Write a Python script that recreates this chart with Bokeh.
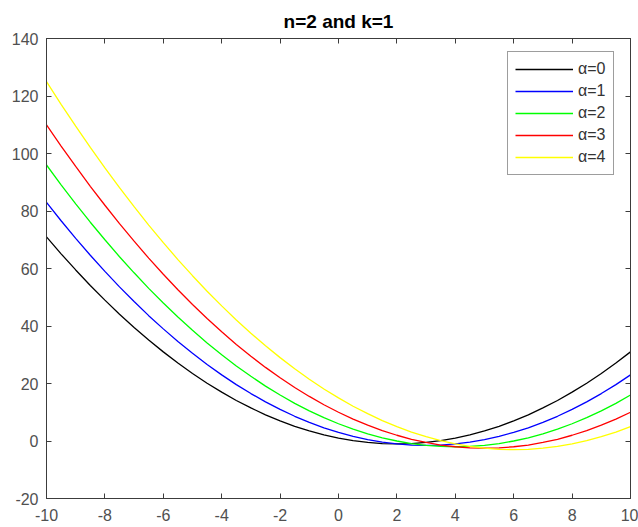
from bokeh.plotting import figure
from bokeh.models import LinearAxis, Range1d, FixedTicker, CustomJSTickFormatter
from bokeh.embed import file_html
from bokeh.resources import INLINE

x = [-10, -9.5, -9, -8.5, -8, -7.5, -7, -6.5, -6, -5.5, -5, -4.5, -4, -3.5, -3, -2.5, -2, -1.5, -1, -0.5,
     0, 0.5, 1, 1.5, 2, 2.5, 3, 3.5, 4, 4.5, 5, 5.5, 6, 6.5, 7, 7.5, 8, 8.5, 9, 9.5, 10]
alpha0 = [71, 65.1, 59.5, 54.1, 49, 44.1, 39.5, 35.1, 31, 27.1, 23.5, 20.1, 17, 14.1, 11.5, 9.1, 7, 5.1, 3.5, 2.1,
          1, 0.1, -0.5, -0.9, -1, -0.9, -0.5, 0.1, 1, 2.1, 3.5, 5.1, 7, 9.1, 11.5, 14.1, 17, 20.1, 23.5, 27.1, 31]
alpha1 = [83, 76.6, 70.5, 64.6, 59, 53.6, 48.5, 43.6, 39, 34.6, 30.5, 26.6, 23, 19.6, 16.5, 13.6, 11, 8.6, 6.5, 4.6,
          3, 1.6, 0.5, -0.4, -1, -1.4, -1.5, -1.4, -1, -0.4, 0.5, 1.6, 3, 4.6, 6.5, 8.6, 11, 13.6, 16.5, 19.6, 23]
alpha2 = [96, 89.1, 82.5, 76.1, 70, 64.1, 58.5, 53.1, 48, 43.1, 38.5, 34.1, 30, 26.1, 22.5, 19.1, 16, 13.1, 10.5, 8.1,
          6, 4.1, 2.5, 1.1, 0, -0.9, -1.5, -1.9, -2, -1.9, -1.5, -0.9, 0, 1.1, 2.5, 4.1, 6, 8.1, 10.5, 13.1, 16]
alpha3 = [110, 102.6, 95.5, 88.6, 82, 75.6, 69.5, 63.6, 58, 52.6, 47.5, 42.6, 38, 33.6, 29.5, 25.6, 22, 18.6, 15.5, 12.6,
          10, 7.6, 5.5, 3.6, 2, 0.6, -0.5, -1.4, -2, -2.4, -2.5, -2.4, -2, -1.4, -0.5, 0.6, 2, 3.6, 5.5, 7.6, 10]
alpha4 = [125, 117.1, 109.5, 102.1, 95, 88.1, 81.5, 75.1, 69, 63.1, 57.5, 52.1, 47, 42.1, 37.5, 33.1, 29, 25.1, 21.5, 18.1,
          15, 12.1, 9.5, 7.1, 5, 3.1, 1.5, 0.1, -1, -1.9, -2.5, -2.9, -3, -2.9, -2.5, -1.9, -1, 0.1, 1.5, 3.1, 5]
series = [alpha0, alpha1, alpha2, alpha3, alpha4]
labels = ["\u03b1=0", "\u03b1=1", "\u03b1=2", "\u03b1=3", "\u03b1=4"]
colors = ["black", "blue", "lime", "red", "yellow"]
xticks = [-10, -8, -6, -4, -2, 0, 2, 4, 6, 8, 10]
yticks = [-20, 0, 20, 40, 60, 80, 100, 120, 140]

FONT = "Liberation Sans"
AX = "#3c3c3c"

p = figure(width=638, height=527, output_backend="svg", toolbar_location=None,
           x_range=Range1d(-10, 10), y_range=Range1d(-20, 140),
           min_border_left=46, min_border_right=8, min_border_top=38, min_border_bottom=29,
           title="n=2 and k=1")
p.title.text_font = FONT
p.title.text_font_size = "19px"
p.title.text_font_style = "bold"
p.title.align = "center"
p.title.text_color = "#000000"
p.title.standoff = 13
p.grid.visible = False
p.outline_line_color = AX
p.outline_line_width = 1
p.background_fill_color = "white"
p.border_fill_color = "white"

for ys, lab, col in zip(series, labels, colors):
    p.line(x, ys, line_color=col, line_width=1.3, legend_label=lab)

num_fmt = CustomJSTickFormatter(code="return tick.toFixed(0);")
blank_fmt = CustomJSTickFormatter(code="return '';")

def style(ax, fmt, standoff):
    ax.formatter = fmt
    ax.major_tick_in = 5
    ax.major_tick_out = 0
    ax.minor_tick_in = 0
    ax.minor_tick_out = 0
    ax.axis_line_color = AX
    ax.major_tick_line_color = AX
    ax.major_label_text_font = FONT
    ax.major_label_text_font_size = "16px"
    ax.major_label_text_color = "#505050"
    ax.major_label_standoff = standoff

for ax in p.xaxis:
    ax.ticker = FixedTicker(ticks=xticks)
    style(ax, num_fmt, 10)
for ax in p.yaxis:
    ax.ticker = FixedTicker(ticks=yticks)
    style(ax, num_fmt, 8)

top = LinearAxis(ticker=FixedTicker(ticks=xticks))
style(top, blank_fmt, 0)
p.add_layout(top, "above")
right = LinearAxis(ticker=FixedTicker(ticks=yticks))
style(right, blank_fmt, 0)
p.add_layout(right, "right")

legend = p.legend[0]
legend.location = (461, 323)
legend.glyph_width = 58
legend.glyph_height = 20
legend.label_height = 20
legend.spacing = 2
legend.padding = 7
legend.margin = 0
legend.label_standoff = 5
legend.label_text_font = FONT
legend.label_text_font_size = "16px"
legend.label_text_color = "#333333"
legend.border_line_color = AX
legend.border_line_width = 1
legend.background_fill_color = "white"
legend.background_fill_alpha = 1

open("out.html", "w").write(file_html(p, INLINE))
